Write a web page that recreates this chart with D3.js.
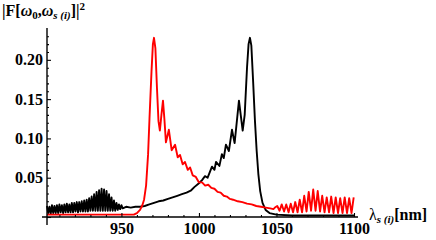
<!DOCTYPE html>
<html><head><meta charset="utf-8">
<script src="https://cdn.jsdelivr.net/npm/d3@7"></script>
<style>
body{margin:0;background:#fff}
svg{display:block}
text{font-family:"Liberation Serif","Times New Roman",serif;font-weight:bold;fill:#000}
</style>
</head><body>
<svg id="chart" width="436" height="240"></svg>
<script>
// ---- data: [wavelength nm, |F|^2] ----
const blackFringes = [
 [902.0,0.014],[902.8,0.005],[903.6,0.013],[904.4,0.004],[905.2,0.015],[906.0,0.005],
 [906.8,0.014],[907.6,0.005],[908.4,0.015],[909.2,0.005],[910.0,0.016],[910.8,0.006],
 [911.6,0.015],[912.4,0.005],[913.2,0.016],[914.0,0.006],[914.8,0.017],[915.6,0.006],
 [916.4,0.016],[917.2,0.006],[918.0,0.018],[918.8,0.006],[919.6,0.018],[920.4,0.007],
 [921.2,0.019],[922.0,0.006],[922.8,0.019],[923.6,0.007],[924.4,0.020],[925.2,0.007],
 [926.0,0.021],[926.8,0.007],[927.6,0.022],[928.4,0.007],[929.2,0.024],[930.0,0.008],
 [930.8,0.026],[931.6,0.008],[932.4,0.029],[933.2,0.008],[934.0,0.032],[934.8,0.008],
 [935.6,0.034],[936.4,0.008],[937.2,0.036],[938.0,0.008],[938.8,0.035],[939.6,0.008],
 [940.4,0.033],[941.2,0.008],[942.0,0.029],[942.8,0.008],[943.6,0.025],[944.4,0.008],
 [945.2,0.021],[946.0,0.008],[946.8,0.018],[947.6,0.009],[948.4,0.016],[949.2,0.010],
 [950.0,0.015],[950.8,0.011]
];
const blackMain = [
 [953,0.013],[956,0.012],[959,0.013],[962,0.013],[965,0.014],[968,0.016],[971,0.018],
 [974,0.020],[977,0.021],[980,0.023],[983,0.025],[986,0.027],[989,0.029],[992,0.031],
 [995,0.034],[997,0.038],[1000,0.043],[1002,0.047],[1003.9,0.052],[1005.6,0.050],
 [1008.4,0.064],[1010.0,0.060],[1011.0,0.070],[1013.2,0.065],[1014.8,0.080],[1016.0,0.075],
 [1017.4,0.092],[1019.3,0.084],[1021.3,0.111],[1023.0,0.094],[1025.8,0.148],[1028.2,0.110],
 [1029.5,0.130],[1031.0,0.190],[1032.0,0.220],[1032.9,0.228],[1033.8,0.218],[1035.0,0.170],
 [1036.1,0.123],[1037.2,0.085],[1038.3,0.055],[1039.5,0.033],[1041.0,0.018],[1043.0,0.009],
 [1045.5,0.005],[1050,0.003],[1060,0.002],[1080,0.002],[1100,0.002]
];
const redMain = [
 [902,0.003],[920,0.003],[940,0.003],[955,0.003],[958,0.003],[960,0.005],[962,0.009],
 [963.5,0.015],[964.6,0.022],[965.9,0.040],[967.2,0.080],[968.1,0.125],[969.4,0.185],
 [970.3,0.220],[971.0,0.228],[971.9,0.215],[972.9,0.165],[973.9,0.122],[974.8,0.110],
 [975.8,0.130],[976.8,0.148],[977.7,0.125],[978.7,0.095],[980.6,0.111],[982.4,0.085],
 [984.6,0.092],[986.3,0.076],[987.8,0.079],[989.5,0.067],[991.0,0.070],[992.8,0.060],
 [994.3,0.063],[996.0,0.053],[998.0,0.051],[1000,0.044],[1002,0.044],[1004,0.040],
 [1006,0.041],[1008,0.037],[1010,0.036],[1012,0.032],[1014,0.031],[1016,0.027],
 [1018,0.026],[1020,0.023],[1022,0.022],[1025,0.020],[1028,0.019],[1031,0.017],
 [1034,0.016],[1037,0.014],[1040,0.013],[1043,0.012],[1046,0.011],[1048,0.010]
];
const redFringes = [
 [1049.0,0.012],[1050.5,0.014],[1052.0,0.008],[1053.4,0.016],[1054.9,0.007],[1056.3,0.016],
 [1057.8,0.006],[1059.2,0.017],[1060.7,0.006],[1062.1,0.019],[1063.6,0.006],[1065.0,0.022],
 [1066.5,0.006],[1067.9,0.027],[1069.4,0.007],[1070.8,0.032],[1072.3,0.008],[1073.7,0.035],
 [1075.2,0.008],[1076.6,0.033],[1078.1,0.007],[1079.5,0.027],[1081.0,0.006],[1082.4,0.025],
 [1083.9,0.006],[1085.3,0.026],[1086.8,0.005],[1088.2,0.025],[1089.7,0.005],[1091.1,0.024],
 [1092.6,0.005],[1094.0,0.025],[1095.5,0.005],[1096.9,0.024],[1098.4,0.005],[1099.8,0.025]
];
const xMajorTicks = [950, 1000, 1050, 1100];
const xMinorTicks = [910,920,930,940,960,970,980,990,1010,1020,1030,1040,1060,1070,1080,1090];
const yMajorTicks = [0, 0.05, 0.10, 0.15, 0.20];
const yMinorTicks = [0.01,0.02,0.03,0.04,0.06,0.07,0.08,0.09,0.11,0.12,0.13,0.14,0.16,0.17,0.18,0.19,0.21,0.22,0.23];

const svg = d3.select("#chart");
const x = d3.scaleLinear().domain([902, 1100]).range([47, 354]);
const y = d3.scaleLinear().domain([0, 0.24]).range([217, 28.4]);

const line = d3.line().x(d => x(d[0])).y(d => y(d[1]));
const black = blackFringes.concat(blackMain);
const red = redMain.concat(redFringes);

svg.append("path").attr("d", line(black)).attr("fill","none")
  .attr("stroke","#000").attr("stroke-width",1.9).attr("stroke-linejoin","round");
svg.append("path").attr("d", line(red)).attr("fill","none")
  .attr("stroke","#ff0000").attr("stroke-width",1.9).attr("stroke-linejoin","round");

// axis lines
svg.append("line").attr("x1",42).attr("x2",358).attr("y1",y(0)).attr("y2",y(0))
  .attr("stroke","#000").attr("stroke-width",1.4);
svg.append("line").attr("x1",x(902)).attr("x2",x(902)).attr("y1",28).attr("y2",225)
  .attr("stroke","#000").attr("stroke-width",1.4);

// x axis ticks
const gx = svg.append("g").attr("transform",`translate(0,${y(0)})`);
gx.call(d3.axisBottom(x).tickValues(xMajorTicks).tickSize(-4).tickSizeOuter(0).tickPadding(6)
  .tickFormat(d3.format("d")));
const gxm = svg.append("g").attr("transform",`translate(0,${y(0)})`);
gxm.call(d3.axisBottom(x).tickValues(xMinorTicks).tickSize(-2).tickSizeOuter(0).tickFormat(""));
// y axis ticks
const gy = svg.append("g").attr("transform",`translate(${x(902)},0)`);
gy.call(d3.axisLeft(y).tickValues(yMajorTicks).tickSize(-4).tickSizeOuter(0).tickPadding(4)
  .tickFormat(d => d === 0 ? "" : d3.format(".2f")(d)));
const gym = svg.append("g").attr("transform",`translate(${x(902)},0)`);
gym.call(d3.axisLeft(y).tickValues(yMinorTicks).tickSize(-2).tickSizeOuter(0).tickFormat(""));

svg.selectAll(".domain").remove();
svg.selectAll(".tick line").attr("stroke","#000").attr("stroke-width",1.1);
svg.selectAll(".tick text").attr("font-family","'Liberation Serif','Times New Roman',serif")
  .attr("font-weight","bold").attr("font-size",16).attr("fill","#000");

// title
const t = svg.append("text").attr("x",2).attr("y",16).attr("font-size",16);
t.append("tspan").text("|F[");
t.append("tspan").attr("font-style","italic").text("ω");
t.append("tspan").attr("dy",3).attr("font-size",11).text("0");
t.append("tspan").attr("dy",-3).text(",");
t.append("tspan").attr("font-style","italic").text("ω");
t.append("tspan").attr("dy",3).attr("font-size",11).attr("font-style","italic").text("s (i)");
t.append("tspan").attr("dy",-3).text("]|");
t.append("tspan").attr("dy",-6).attr("font-size",11).text("2");

// x label
const xl = svg.append("text").attr("x",369).attr("y",220).attr("font-size",16);
xl.append("tspan").attr("font-weight","normal").text("λ");
xl.append("tspan").attr("dy",3).attr("font-size",11).attr("font-style","italic").text("s (i)");
xl.append("tspan").attr("dy",-3).text("[nm]");
</script>
</body></html>
